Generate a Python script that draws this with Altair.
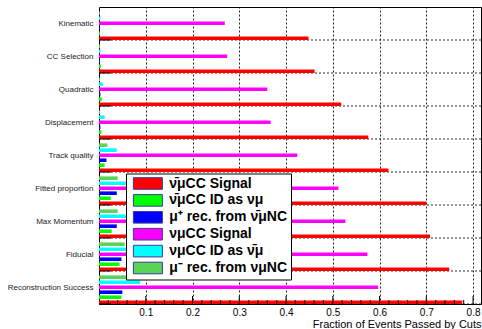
import altair as alt
import pandas as pd

categories = ["Kinematic", "CC Selection", "Quadratic", "Displacement", "Track quality",
              "Fitted proportion", "Max Momentum", "Fiducial", "Reconstruction Success"]

series = ["ν̄μCC Signal", "ν̄μCC ID as νμ", "μ⁺ rec. from ν̄μNC",
          "νμCC Signal", "νμCC ID as ν̄μ", "μ⁻ rec. from νμNC"]
colors = ["#ff0000", "#00ff00", "#0000ff", "#ff00ff", "#00ffff", "#59d454"]

nubar_cc_signal = [0.448, 0.461, 0.518, 0.576, 0.619, 0.700, 0.708, 0.749, 0.777]
nubar_cc_id_numu = [0.002, 0.004, 0.006, 0.005, 0.012, 0.025, 0.027, 0.044, 0.048]
mup_from_nubar_nc = [0.002, 0.002, 0.003, 0.003, 0.016, 0.038, 0.038, 0.048, 0.050]
numu_cc_signal = [0.269, 0.274, 0.360, 0.367, 0.424, 0.512, 0.527, 0.574, 0.597]
numu_cc_id_nubar = [0.003, 0.003, 0.008, 0.012, 0.038, 0.070, 0.072, 0.080, 0.088]
mum_from_numu_nc = [0.002, 0.002, 0.002, 0.002, 0.018, 0.040, 0.040, 0.055, 0.060]

values = [nubar_cc_signal, nubar_cc_id_numu, mup_from_nubar_nc,
          numu_cc_signal, numu_cc_id_nubar, mum_from_numu_nc]

major_ticks = [0.1, 0.2, 0.3, 0.4, 0.5, 0.6, 0.7, 0.8]
minor_ticks = [round(i * 0.02, 2) for i in range(1, 41) if i % 5 != 0]

W, H = 382, 297
XMAX = 0.817
XTITLE = "Fraction of Events Passed by Cuts"

rows = []
for s, vals in zip(series, values):
    for c, v in zip(categories, vals):
        rows.append({"cat": c, "series": s, "value": v})
df = pd.DataFrame(rows)
df_cat = pd.DataFrame({"cat": categories})
df_major = pd.DataFrame({"value": major_ticks})
df_minor = pd.DataFrame({"value": minor_ticks})

xscale = alt.Scale(domain=[0, XMAX], nice=False, zero=True)
yscale = alt.Scale(paddingInner=0, paddingOuter=0)

yaxis = alt.Axis(labelFont="Liberation Sans", labelFontSize=8, labelColor="#222",
                 labelPadding=6, ticks=False, domain=False, grid=False)
xaxis = alt.Axis(values=major_ticks, format=".1f", grid=True, gridColor="black",
                 gridDash=[2, 2], gridOpacity=0.85, ticks=False, domain=False,
                 labelFont="Liberation Sans", labelFontSize=10, labelColor="black",
                 labelPadding=3, titleFont="Liberation Sans", titleFontSize=11,
                 titleFontWeight="normal", titleColor="black", titleAnchor="end",
                 titlePadding=1)


def ycat(bp=None):
    if bp is None:
        return alt.Y("cat:N", sort=categories, scale=yscale, title=None, axis=yaxis)
    return alt.Y("cat:N", sort=categories, scale=yscale, title=None, axis=yaxis, bandPosition=bp)


def xval():
    return alt.X("value:Q", scale=xscale, title=XTITLE, axis=xaxis)


hgrid = alt.Chart(df_cat).mark_rule(color="black", strokeDash=[2, 2], strokeWidth=1, opacity=0.85).encode(
    y=ycat(1), x=alt.value(0), x2=alt.value(W),
)

bars = alt.Chart(df).mark_bar(opacity=1).encode(
    y=ycat(),
    yOffset=alt.YOffset("series:N", sort=series[::-1],
                        scale=alt.Scale(range=[4.4, 33], paddingInner=0.28, paddingOuter=0)),
    x=xval(),
    color=alt.Color("series:N", sort=series,
                    scale=alt.Scale(domain=series, range=colors),
                    legend=alt.Legend(orient="none", legendX=27, legendY=166.5, title=None,
                                      fillColor="white", strokeColor="black", padding=3,
                                      symbolType="M-2.5,-1H2.5V1H-2.5Z", symbolSize=134.56,
                                      symbolStrokeColor="#3a3aa0", symbolStrokeWidth=1,
                                      symbolOpacity=1, symbolOffset=11.9,
                                      labelFont="Liberation Sans", labelFontSize=14,
                                      labelFontWeight="bold", labelColor="black",
                                      labelOffset=14.3, rowPadding=0.9, labelLimit=0)),
)

yticks = alt.Chart(df_cat).mark_rule(color="black", strokeWidth=1).encode(
    y=ycat(1), x=alt.value(0), x2=alt.value(12),
)

xmajor = alt.Chart(df_major).mark_rule(color="black", strokeWidth=1).encode(
    x=xval(), y=alt.value(H), y2=alt.value(H - 8),
)
xminor = alt.Chart(df_minor).mark_rule(color="black", strokeWidth=1).encode(
    x=xval(), y=alt.value(H), y2=alt.value(H - 4),
)

chart = alt.layer(hgrid, bars, yticks, xmajor, xminor).properties(
    width=W, height=H,
    padding={"left": 99, "top": 7, "right": 1, "bottom": 25},
    autosize=alt.AutoSizeParams(type="none"),
).configure(background="white").configure_view(stroke="black", strokeWidth=1)

chart.save("out.html", embed_options={"renderer": "svg", "actions": False})
